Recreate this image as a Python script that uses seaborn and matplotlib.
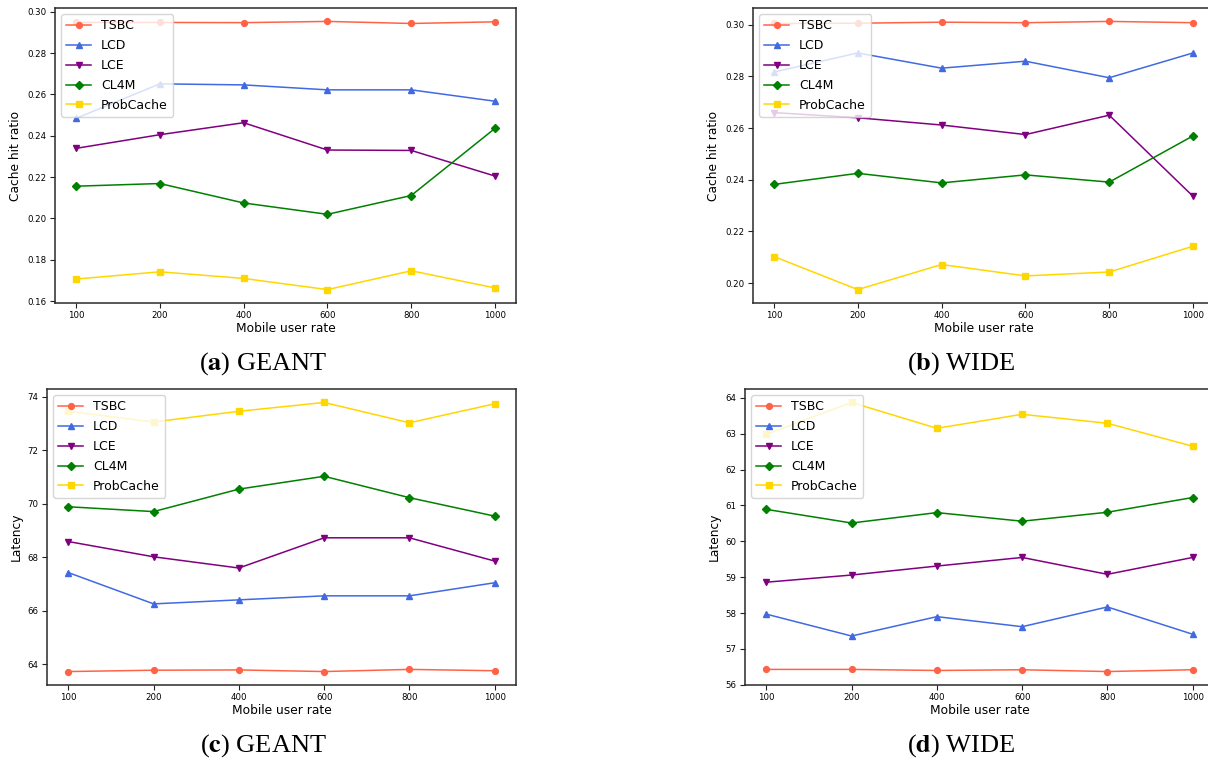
import matplotlib
matplotlib.use("Agg")
import matplotlib.pyplot as plt
import seaborn as sns
import numpy as np

# ---------------- data ----------------
rates = ["100", "200", "400", "600", "800", "1000"]
methods = ["TSBC", "LCD", "LCE", "CL4M", "ProbCache"]

# (a) GEANT - cache hit ratio
geant_hit_tsbc = [0.2948, 0.2948, 0.2947, 0.2953, 0.2943, 0.2951]
geant_hit_lcd = [0.2484, 0.2651, 0.2646, 0.2622, 0.2622, 0.2567]
geant_hit_lce = [0.2339, 0.2405, 0.2463, 0.2331, 0.2329, 0.2205]
geant_hit_cl4m = [0.2156, 0.2169, 0.2075, 0.2020, 0.2111, 0.2436]
geant_hit_prob = [0.1707, 0.1742, 0.1710, 0.1656, 0.1747, 0.1664]

# (b) WIDE - cache hit ratio
wide_hit_tsbc = [0.3005, 0.3006, 0.3010, 0.3008, 0.3013, 0.3008]
wide_hit_lcd = [0.2817, 0.2891, 0.2832, 0.2859, 0.2795, 0.2891]
wide_hit_lce = [0.2660, 0.2640, 0.2612, 0.2575, 0.2650, 0.2336]
wide_hit_cl4m = [0.2382, 0.2425, 0.2388, 0.2419, 0.2391, 0.2570]
wide_hit_prob = [0.2103, 0.1975, 0.2072, 0.2028, 0.2043, 0.2143]

# (c) GEANT - latency
geant_lat_tsbc = [63.73, 63.78, 63.79, 63.73, 63.81, 63.76]
geant_lat_lcd = [67.43, 66.26, 66.41, 66.56, 66.56, 67.05]
geant_lat_lce = [68.59, 68.02, 67.60, 68.73, 68.73, 67.86]
geant_lat_cl4m = [69.89, 69.71, 70.55, 71.03, 70.23, 69.54]
geant_lat_prob = [73.46, 73.06, 73.46, 73.79, 73.03, 73.74]

# (d) WIDE - latency
wide_lat_tsbc = [56.43, 56.43, 56.40, 56.42, 56.37, 56.42]
wide_lat_lcd = [57.97, 57.36, 57.90, 57.62, 58.17, 57.41]
wide_lat_lce = [58.86, 59.06, 59.31, 59.55, 59.08, 59.55]
wide_lat_cl4m = [60.89, 60.51, 60.80, 60.56, 60.81, 61.22]
wide_lat_prob = [62.98, 63.87, 63.15, 63.54, 63.29, 62.65]

captions = ["a", "b", "c", "d"]
caption_names = ["GEANT", "WIDE", "GEANT", "WIDE"]
ylabels = ["Cache hit ratio", "Cache hit ratio", "Latency", "Latency"]
xlabel = "Mobile user rate"

# ---------------- style ----------------
colors = {"TSBC": "tomato", "LCD": "royalblue", "LCE": "purple",
          "CL4M": "green", "ProbCache": "gold"}
markers = {"TSBC": "o", "LCD": "^", "LCE": "v", "CL4M": "D", "ProbCache": "s"}

plt.rcParams["mathtext.fontset"] = "stix"

W, H = 1208, 762
fig = plt.figure(figsize=(W / 100, H / 100), dpi=100)

# axes boxes in pixels: left, top, right, bottom
boxes = [(55, 8, 516, 303), (753, 8, 1214, 303),
         (47, 389, 516, 685), (745, 389, 1214, 685)]
ylabel_off = [-39, -39, -30, -30]
caption_pos = [(263, 364), (961, 364), (263, 746), (961, 746)]

panels = [
    [geant_hit_tsbc, geant_hit_lcd, geant_hit_lce, geant_hit_cl4m, geant_hit_prob],
    [wide_hit_tsbc, wide_hit_lcd, wide_hit_lce, wide_hit_cl4m, wide_hit_prob],
    [geant_lat_tsbc, geant_lat_lcd, geant_lat_lce, geant_lat_cl4m, geant_lat_prob],
    [wide_lat_tsbc, wide_lat_lcd, wide_lat_lce, wide_lat_cl4m, wide_lat_prob],
]

xpos = np.arange(len(rates))

for i, series in enumerate(panels):
    l, t, r, b = boxes[i]
    ax = fig.add_axes([l / W, (H - b) / H, (r - l) / W, (b - t) / H])
    for name, vals in zip(methods, series):
        c = colors[name]
        sns.lineplot(x=xpos, y=vals, ax=ax, color=c, marker=markers[name],
                     markersize=4.2 if markers[name] != "D" else 3.8,
                     markeredgecolor=c, markeredgewidth=1,
                     linewidth=1.1, label=name, sort=False, errorbar=None)
    ax.set_xticks(xpos)
    ax.set_xticklabels(rates)
    ax.margins(x=0.05, y=0.05)
    ax.tick_params(axis="both", labelsize=6.2, length=3.5, width=0.8, pad=2.5,
                   color="#222222")
    for sp in ax.spines.values():
        sp.set_color("#2a2a2a")
        sp.set_linewidth(1.1)
    ax.set_xlabel(xlabel, fontsize=8.8)
    ax.set_ylabel(ylabels[i], fontsize=8.8)
    wpx = r - l
    hpx = b - t
    ax.yaxis.set_label_coords((ylabel_off[i] + 6) / wpx, 0.5)
    ax.xaxis.set_label_coords(0.5, -19 / hpx)
    ax.legend(loc="upper left", fontsize=9, labelspacing=0.55)

    cx, cy = caption_pos[i]
    fig.text(cx / W, 1 - cy / H, r"($\mathbf{" + captions[i] + r"}$) " + caption_names[i],
             ha="center", va="center", fontsize=19, family="Liberation Serif",
             math_fontfamily="stix")

fig.savefig("out.png", dpi=100)
